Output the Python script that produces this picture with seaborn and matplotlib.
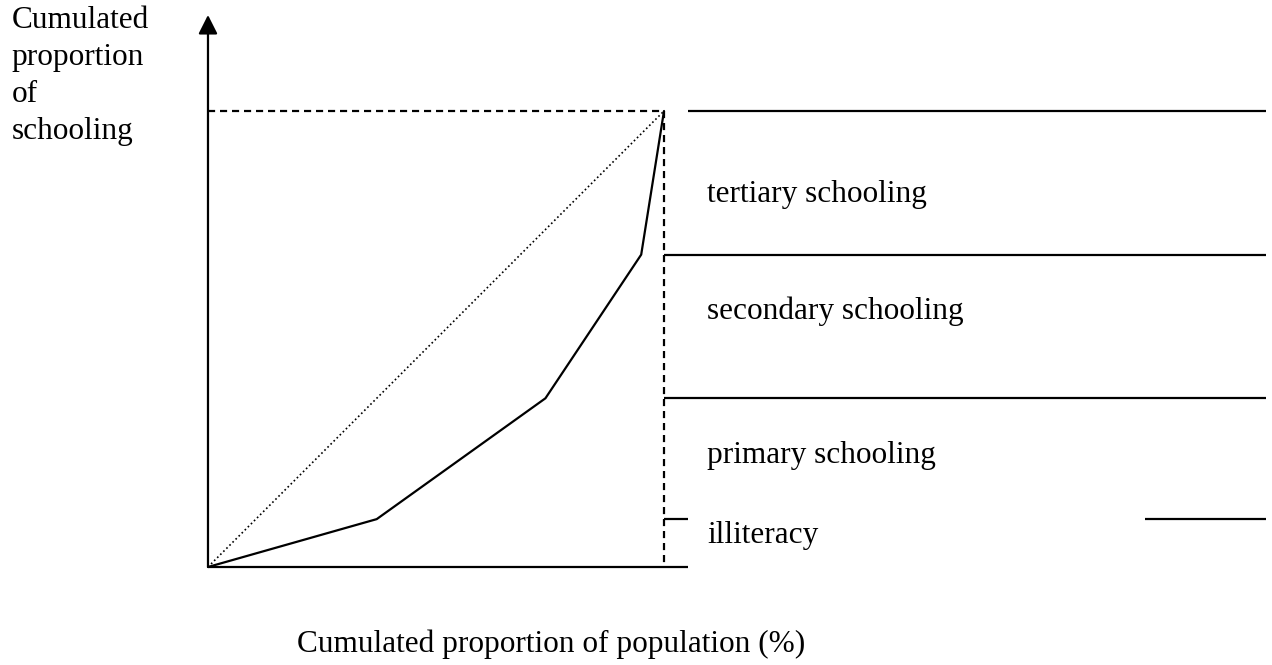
import matplotlib
matplotlib.use("Agg")
import matplotlib.pyplot as plt
import seaborn as sns
import pandas as pd

# ---- data ----
population = [0, 37, 74, 95, 100]          # cumulated proportion of population (%)
schooling = [0, 10.5, 37, 68.5, 100]       # cumulated proportion of schooling
equality_x = [0, 100]
equality_y = [0, 100]
levels = ["illiteracy", "primary schooling", "secondary schooling", "tertiary schooling"]
level_bounds = [10.5, 37, 68.5, 100]       # upper boundary of each level
level_label_y = [5.3, 22.8, 54.4, 80.0]
ylabel_lines = ["Cumulated", "proportion", "of", "schooling"]
xlabel = "Cumulated proportion of population (%)"

sns.set_style("white")
plt.rcParams["font.family"] = ["Liberation Serif", "DejaVu Serif"]

fig = plt.figure(figsize=(12.72, 6.65), dpi=100)
ax = fig.add_axes([0, 0, 1, 1])
ax.set_xlim(-45.61, 233.33)
ax.set_ylim(-21.49, 124.34)
ax.axis("off")

LW = 1.6
df_curve = pd.DataFrame({"pop": population, "school": schooling})
df_eq = pd.DataFrame({"pop": equality_x, "school": equality_y})

# equality diagonal (dotted)
sns.lineplot(data=df_eq, x="pop", y="school", ax=ax, color="black", lw=1.2,
             linestyle=(0, (1, 1.6)), sort=False)
# concentration curve
sns.lineplot(data=df_curve, x="pop", y="school", ax=ax, color="black", lw=LW,
             sort=False)

# dashed frame lines
ax.plot([0, 100], [100, 100], color="black", lw=LW, linestyle=(0, (3.2, 2.2)))
ax.plot([100, 100], [100, 0], color="black", lw=LW, linestyle=(0, (3.2, 2.2)))

# axes
ax.plot([0, 105.3], [0, 0], color="black", lw=LW, solid_capstyle="butt")
ax.annotate("", xy=(0, 121.05), xytext=(0, 0),
            arrowprops=dict(arrowstyle="-|>,head_length=11.5,head_width=5.8",
                            mutation_scale=1, shrinkA=0, shrinkB=0,
                            lw=LW, color="black"))

# level boundary lines on the right
for b in level_bounds:
    if b == level_bounds[0]:
        ax.plot([100, 105.3], [b, b], color="black", lw=LW, solid_capstyle="butt")
        ax.plot([205.5, 232.0], [b, b], color="black", lw=LW, solid_capstyle="butt")
    elif b == level_bounds[-1]:
        ax.plot([105.3, 232.0], [b, b], color="black", lw=LW, solid_capstyle="butt")
    else:
        ax.plot([100, 232.0], [b, b], color="black", lw=LW, solid_capstyle="butt")

FS = 22.5
for name, yy in zip(levels, level_label_y):
    ax.text(109.4, yy, name, fontsize=FS, ha="left", va="baseline", color="black")

# y label (stacked lines)
for i, line in enumerate(ylabel_lines):
    ax.text(-43.0, 118.2 - i * 8.11, line, fontsize=FS, ha="left", va="baseline",
            color="black")

# x label
ax.text(19.5, -18.6, xlabel, fontsize=FS, ha="left", va="baseline", color="black")

fig.savefig("out.png", dpi=100)
